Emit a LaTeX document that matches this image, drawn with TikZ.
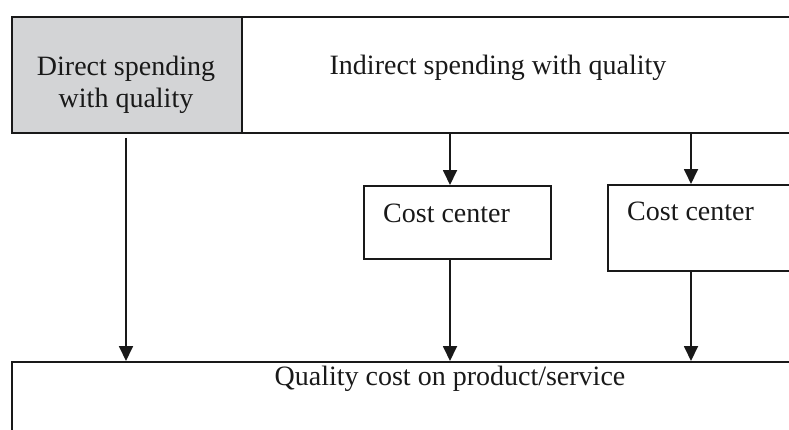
\documentclass[tikz,border=0pt]{standalone}
\usepackage{fontspec}
\setmainfont{Liberation Serif}
\usetikzlibrary{arrows.meta}
\definecolor{boxgray}{HTML}{D3D4D6}
\begin{document}
\begin{tikzpicture}[x=1pt,y=-1pt,
  box/.style={draw=black!90, line width=1.8pt, inner sep=0pt, anchor=north west},
  lbl/.style={font=\fontsize{28}{32}\selectfont, inner sep=0pt, text=black!90},
  arr/.style={draw=black!90, line width=1.8pt, -{Triangle[length=15pt,width=14pt]}}]
\useasboundingbox (0,0) rectangle (789,429);
\clip (0,0) rectangle (789,429);
% boxes
\node[box, fill=boxgray, minimum width=230pt, minimum height=116pt] (direct) at (11,16) {};
\node[box, minimum width=580pt, minimum height=116pt] (indirect) at (241,16) {};
\node[box, minimum width=187pt, minimum height=73pt] (cc1) at (363,185) {};
\node[box, minimum width=200pt, minimum height=86pt] (cc2) at (607,184) {};
\node[box, minimum width=820pt, minimum height=120pt] (bottom) at (11,361) {};
% texts
\node[lbl, align=center, anchor=base] (tdirect) at (126,107) {Direct spending\\with quality};
\node[lbl, anchor=base] (tindirect) at (498,74) {Indirect spending with quality};
\node[lbl, anchor=base west] (tcc1) at (383,222) {Cost center};
\node[lbl, anchor=base west] (tcc2) at (627,220) {Cost center};
\node[lbl, anchor=base] (tbottom) at (450,385) {Quality cost on product/service};
% arrow x positions
\coordinate (a0) at (126,0);
\coordinate (a1) at (450,0);
\coordinate (a2) at (691,0);
% connectors
\draw[arr] ([yshift=-4pt]direct.south -| a0) -- (bottom.north -| a0);
\draw[arr] (indirect.south -| a1) -- (cc1.north -| a1);
\draw[arr] (indirect.south -| a2) -- (cc2.north -| a2);
\draw[arr] (cc1.south -| a1) -- (bottom.north -| a1);
\draw[arr] (cc2.south -| a2) -- (bottom.north -| a2);
\end{tikzpicture}
\end{document}
